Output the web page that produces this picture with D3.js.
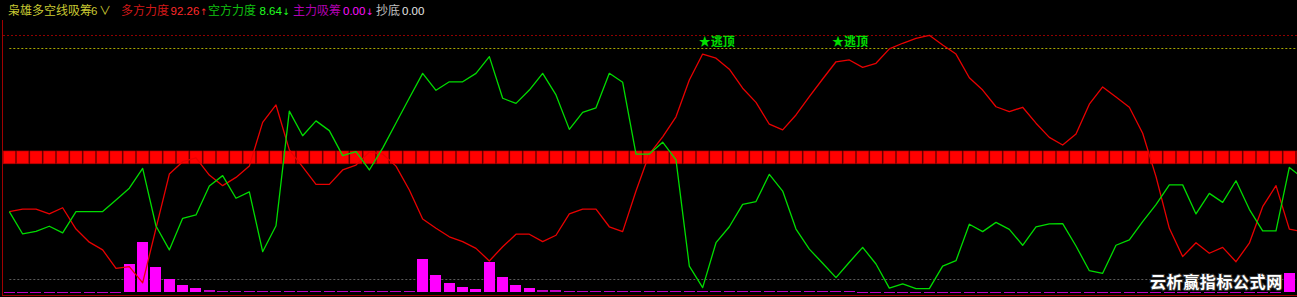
<!DOCTYPE html>
<html><head><meta charset="utf-8">
<script src="https://cdn.jsdelivr.net/npm/d3@7"></script>
<style>
html,body{margin:0;padding:0;background:#000;overflow:hidden;}
svg{display:block;}
text{font-family:"Noto Sans CJK SC","Noto Sans",sans-serif;}
</style></head>
<body>
<script>
// ---- data ----
const redVals = [31.4,32.4,32.4,30.5,32.9,24.6,19.5,16.5,9.3,10.0,
  3.7,24.9,46.0,50.8,52.3,45.6,41.5,44.7,49.1,66.1,
  72.9,55.4,48.8,42.0,42.0,47.6,49.5,54.6,53.8,49.1,
  39.8,28.5,24.9,21.6,19.7,17.1,12.2,17.7,22.6,22.6,
  19.7,22.2,30.5,32.4,32.4,25.5,23.6,39.4,53.8,60.5,
  68.3,82.6,92.7,91.1,86.8,79.4,73.9,65.4,63.2,69.0,
  76.1,83.0,89.7,90.4,87.5,89.1,94.7,96.9,98.8,100.0,
  96.2,92.7,83.5,78.7,72.2,70.3,72.0,65.8,60.3,57.3,
  61.6,73.2,79.9,76.0,72.0,61.9,45.0,24.9,13.9,19.3,
  15.2,17.5,11.9,19.1,33.3,41.5,24.6,23.5];
const greenVals = [31.4,22.7,23.7,25.7,23.1,31.4,31.4,31.4,35.9,40.5,
  48.2,25.8,16.5,28.8,30.1,41.4,45.4,36.6,39.1,15.8,
  25.9,70.5,60.9,66.7,62.9,53.2,54.7,47.6,56.1,65.9,
  75.6,85.2,78.6,81.9,81.9,85.2,91.7,75.5,73.5,78.7,
  85.2,76.8,63.4,70.0,71.8,85.2,81.7,53.8,53.8,58.4,
  51.5,10.2,1.8,19.3,25.5,34.2,35.3,45.9,39.4,24.6,
  16.8,11.3,5.7,11.7,17.5,11.0,1.6,3.3,1.4,1.4,
  10.2,12.3,26.5,23.6,27.2,24.5,18.3,25.5,26.6,26.7,
  18.0,8.4,7.4,18.3,20.4,27.5,34.1,41.8,41.8,30.5,
  38.5,35.0,43.4,32.3,23.9,23.9,48.6,44.5];
const barVals = [0.2,0.2,0.2,0.2,0.2,0.2,0.2,0.2,0.2,11.0,
  19.7,10.0,5.2,2.7,1.6,0.9,0.6,0.4,0.4,0.4,
  0.4,0.4,0.4,0.4,0.4,0.4,0.4,0.4,0.4,0.4,
  0.4,13.1,6.6,3.5,1.9,1.3,11.7,5.8,3.0,1.7,
  0.9,0.8,0.4,0.4,0.4,0.4,0.4,0.4,0.4,0.4,
  0.4,0.4,0.4,0.4,0.4,0.4,0.4,0.4,0.4,0.4,
  0.4,0.4,0.4,0.4,0.3,0.3,0.3,0.3,0.3,0.3,
  0.3,0.3,0.3,0.3,0.3,0.3,0.3,0.3,0.3,0.3,
  0.3,0.3,0.3,0.3,0.3,0.3,0.3,0.3,0.3,0.3,
  0.3,0.3,0.3,0.3,0.3,0.3,7.4,5.0];
const categories = d3.range(redVals.length);
const bandLow = 50, bandHigh = 55;          // red square band
const levelLines = [100, 95, 5];            // reference levels
const signalIdx = [52, 62];
const signalText = "★逃顶";
const headerParts = [
  {t:"枭雄多空线吸筹", x:8,   c:"#c8c832", k:"cjk"},
  {t:"6",              x:91,  c:"#c8c832", k:"num"},
  {t:"∨",              x:99,  c:"#c8c832", k:"cjk"},
  {t:"多方力度",        x:121, c:"#d01818", k:"cjk"},
  {t:"92.26",          x:170.5, c:"#ff2a2a", k:"num"},
  {t:"↑",              x:200, c:"#ff2a2a", k:"arrow"},
  {t:"空方力度",        x:208, c:"#10c010", k:"cjk"},
  {t:"8.64",           x:259.5, c:"#20ff20", k:"num"},
  {t:"↓",              x:282.5, c:"#20ff20", k:"arrow"},
  {t:"主力吸筹",        x:293, c:"#b000b0", k:"cjk"},
  {t:"0.00",           x:343, c:"#ff10ff", k:"num"},
  {t:"↓",              x:366, c:"#ff10ff", k:"arrow"},
  {t:"抄底",            x:376, c:"#c0c0c0", k:"cjk"},
  {t:"0.00",           x:402, c:"#e4e4e4", k:"num"}
];
const watermark = "云析赢指标公式网";

// ---- drawing ----
const W = 1297, H = 297;
const svg = d3.select("body").append("svg").attr("width", W).attr("height", H)
  .style("background", "#000");

const x = d3.scaleLinear().domain([0, 96]).range([9.33, 1289.33]);
const y = d3.scaleLinear().domain([0, 100]).range([292.3, 35.3]);

svg.append("defs").append("clipPath").attr("id","clip")
  .append("rect").attr("x",3).attr("y",20).attr("width",W-3).attr("height",275);

// frame
svg.append("line").attr("x1",2.5).attr("x2",2.5).attr("y1",20).attr("y2",296)
  .attr("stroke","#a00000").attr("stroke-width",1);
svg.append("line").attr("x1",2).attr("x2",W).attr("y1",295.5).attr("y2",295.5)
  .attr("stroke","#a00000").attr("stroke-width",1);

// reference dotted lines
const lvl = v => Math.round(y(v)) + 0.5;
svg.append("line").attr("x1",3).attr("x2",W).attr("y1",lvl(levelLines[0])).attr("y2",lvl(levelLines[0]))
  .attr("stroke","#900000").attr("stroke-dasharray","2,2");
svg.append("line").attr("x1",x(0)).attr("x2",W).attr("y1",lvl(levelLines[1])).attr("y2",lvl(levelLines[1]))
  .attr("stroke","#a8a800").attr("stroke-dasharray","2,2");
svg.append("line").attr("x1",x(0)).attr("x2",W).attr("y1",lvl(levelLines[2])).attr("y2",lvl(levelLines[2]))
  .attr("stroke","#5a5a5a").attr("stroke-dasharray","2,2");

const g = svg.append("g").attr("clip-path","url(#clip)");

// magenta bars
const bw = 11;
g.selectAll("rect.bar").data(categories).enter().append("rect")
  .attr("x", i => x(i) - bw/2)
  .attr("width", bw)
  .attr("y", i => y(barVals[i]))
  .attr("height", i => Math.max(1, y(0) - y(barVals[i])))
  .attr("fill", i => barVals[i] < 1 ? "#c000c0" : "#ff00ff")
  .attr("shape-rendering","crispEdges");

// red squares band
const sw = 12.3;
g.selectAll("rect.sq").data(categories).enter().append("rect")
  .attr("x", i => x(i) - sw/2)
  .attr("width", sw)
  .attr("y", y(bandHigh))
  .attr("height", y(bandLow) - y(bandHigh))
  .attr("fill", "#ff0000")
  .attr("stroke", "#a00000").attr("stroke-width", 0.6);

// lines
const line = vals => d3.line().x(i => x(i)).y(i => y(vals[i]))(categories);
g.append("path").attr("d", line(redVals)).attr("fill","none")
  .attr("stroke","#e80000").attr("stroke-width",1.3).attr("stroke-linejoin","round");
g.append("path").attr("d", line(greenVals)).attr("fill","none")
  .attr("stroke","#00dc00").attr("stroke-width",1.3).attr("stroke-linejoin","round");

// signals
svg.selectAll("text.sig").data(signalIdx).enter().append("text")
  .attr("x", i => x(i) - 4)
  .attr("y", y(95) - 2.5)
  .attr("fill", "#00e000")
  .attr("font-size", 12).attr("font-weight", "bold")
  .text(signalText);

// header
svg.selectAll("text.hdr").data(headerParts).enter().append("text")
  .attr("x", d => d.x).attr("y", 14.5)
  .attr("fill", d => d.c)
  .attr("font-size", d => d.k === "num" ? 11.5 : (d.k === "arrow" ? 9 : 12))
  .style("font-family", d => d.k === "num" ? "'Liberation Sans',Arial,sans-serif" : (d.k === "arrow" ? "'DejaVu Sans',sans-serif" : null))
  .text(d => d.t);

// watermark
svg.append("text").attr("x", 1150).attr("y", 288)
  .attr("fill", "#ffffff").attr("font-size", 16).attr("font-weight", "bold")
  .attr("letter-spacing", 0.6)
  .attr("stroke", "#333").attr("stroke-width", 2).attr("paint-order", "stroke")
  .text(watermark);
</script>
</body></html>
